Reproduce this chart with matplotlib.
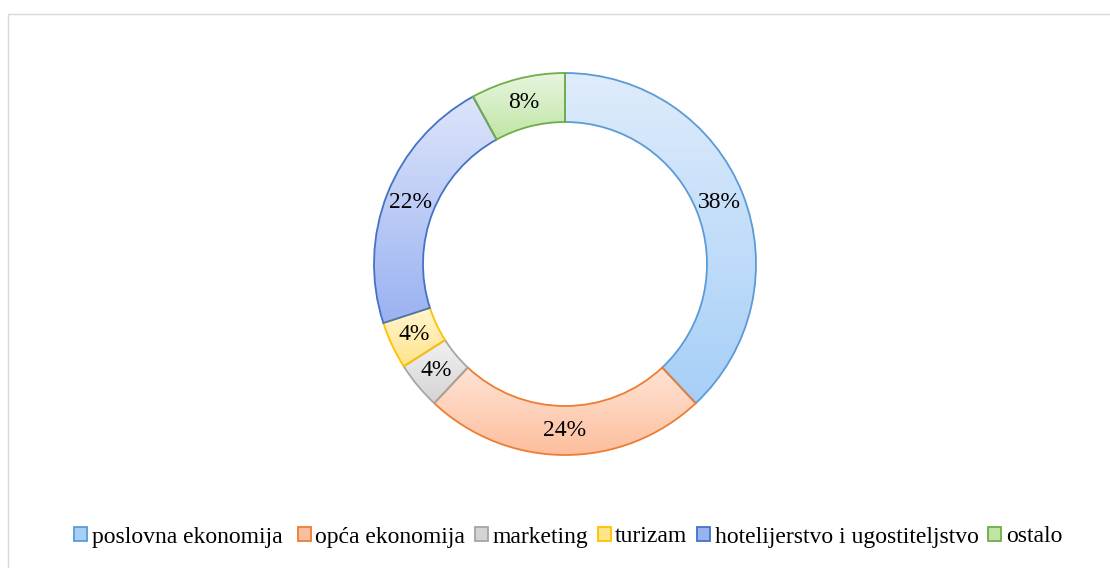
import numpy as np
import matplotlib
matplotlib.use("Agg")
from matplotlib import pyplot as plt
from matplotlib.colors import LinearSegmentedColormap
from matplotlib.patches import Rectangle

plt.rcParams['font.family'] = ['Liberation Serif', 'DejaVu Serif']

kategorije = ["poslovna ekonomija ", "opća ekonomija", "marketing", "turizam",
              "hotelijerstvo i ugostiteljstvo", "ostalo"]
udjeli = [38, 24, 4, 4, 22, 8]

rubovi = ["#5B9BD5", "#ED7D31", "#A5A5A5", "#FFC000", "#4472C4", "#70AD47"]
gornje = ["#DFECFB", "#FFE3D4", "#F2F2F2", "#FFF6D2", "#DEE5FA", "#E8F5DF"]
donje = ["#A6CFF8", "#FDBE9E", "#D4D4D4", "#FFE48A", "#9AB2F2", "#BFE5A4"]

W, H = 1110, 568
fig = plt.figure(figsize=(W / 100, H / 100), dpi=100)

# okvir (samo lijevi i gornji rub su vidljivi)
frame = fig.add_axes([0, 0, 1, 1])
frame.set_xlim(0, W)
frame.set_ylim(H, 0)
frame.axis('off')
frame.add_patch(Rectangle((7.5, 13.5), W + 20, H + 20, fill=False,
                          edgecolor="#D9D9D9", linewidth=1.0))

# prsten
cx, cy, R = 565, 264, 191
box = 420
ax = fig.add_axes([(cx - box / 2) / W, (H - cy - box / 2) / H, box / W, box / H])
wedges, texts = ax.pie(udjeli, startangle=90, counterclock=False, radius=1.0,
                       colors=gornje,
                       wedgeprops=dict(width=49 / R, linewidth=1.3),
                       labels=None)
lim = box / 2 / R
ax.set_aspect('equal')
ax.axis('off')

grad = np.linspace(0, 1, 256).reshape(-1, 1)
kut = 90.0
for w, v, g, d, e in zip(wedges, udjeli, gornje, donje, rubovi):
    ext = w.get_path().get_extents()
    cmap = LinearSegmentedColormap.from_list("g", [g, d])
    im = ax.imshow(grad, cmap=cmap, aspect='auto', origin='upper',
                   extent=[ext.x0, ext.x1, ext.y0, ext.y1], zorder=1,
                   interpolation='bilinear')
    im.set_clip_path(w)
    w.set_facecolor('none')
    w.set_edgecolor(e)
    w.set_zorder(2)
    # postotak na sredini prstena
    sred = np.deg2rad(kut - v * 3.6 / 2)
    kut -= v * 3.6
    r = 0.872
    ax.text(r * np.cos(sred), r * np.sin(sred), f"{v}%", ha='center', va='center',
            fontsize=17, zorder=3)
ax.set_xlim(-lim, lim)
ax.set_ylim(-lim, lim)

# legenda
ruke = [Rectangle((0, 0), 1, 1, facecolor=d, edgecolor=e, linewidth=1.3)
        for d, e in zip(donje, rubovi)]
fig.legend(ruke, kategorije, loc='center', bbox_to_anchor=(568 / W, 1 - 537 / H),
           ncol=6, frameon=False, fontsize=17, handlelength=0.55, handleheight=0.55,
           handletextpad=0.2, columnspacing=0.4, borderpad=0)

fig.savefig("out.png", dpi=100)
